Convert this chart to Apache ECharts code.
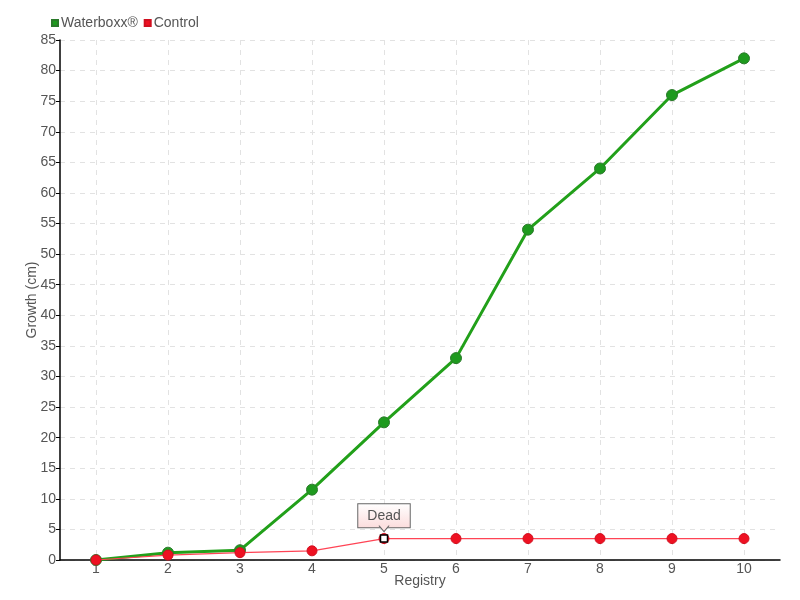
<!DOCTYPE html>
<html><head><meta charset="utf-8">
<script src="https://cdn.jsdelivr.net/npm/echarts@6/dist/echarts.min.js"></script>
<style>html,body{margin:0;padding:0;background:#fff}#c{width:800px;height:600px}</style>
</head><body><div id="c"></div>
<script>
var categories = ['1','2','3','4','5','6','7','8','9','10'];
var waterboxx = [0, 1.2, 1.6, 11.5, 22.5, 33, 54, 64, 76, 82];
var control = [0, 0.8, 1.2, 1.5, 3.5, 3.5, 3.5, 3.5, 3.5, 3.5];
var deadIndex = 4;
var deadLabel = 'Dead';
var FONT = '"Liberation Sans", sans-serif';
// helper axis for vertical grid lines through category centres
var halfSteps = [];
for (var i = 0; i <= categories.length * 2; i++) halfSteps.push(String(i));
var chart = echarts.init(document.getElementById('c'));
chart.setOption({
  animation: false,
  textStyle: {fontFamily: FONT},
  legend: {
    left: 46, top: 11, itemWidth: 6, itemHeight: 6, itemGap: 6,
    textStyle: {color: '#555', fontSize: 14, fontFamily: FONT, padding: [0, 0, 0, -2]},
    data: [{name: 'Waterboxx®', icon: 'rect'}, {name: 'Control', icon: 'rect'}]
  },
  grid: {left: 60, right: 20, top: 40, bottom: 40, outerBoundsMode: 'none', containLabel: false},
  xAxis: [{
    type: 'category', data: categories, boundaryGap: true,
    name: 'Registry', nameLocation: 'middle', nameGap: 14, nameMoveOverlap: false,
    nameTextStyle: {color: '#555', fontSize: 14, fontFamily: FONT, verticalAlign: 'top'},
    axisLine: {lineStyle: {color: '#000', width: 1.5}},
    axisTick: {alignWithLabel: true, length: 4, lineStyle: {color: '#000'}},
    axisLabel: {color: '#555', fontSize: 14, margin: 2, fontFamily: FONT},
    splitLine: {show: false}
  }, {
    type: 'category', data: halfSteps, boundaryGap: false, position: 'bottom',
    axisLine: {show: false}, axisTick: {show: false}, axisLabel: {show: false},
    splitLine: {show: true, interval: function (idx) { return idx % 2 === 1; },
      lineStyle: {color: '#e2e2e2', type: [5, 5]}}
  }],
  yAxis: {
    type: 'value', min: 0, max: 85, interval: 5,
    name: 'Growth (cm)', nameLocation: 'middle', nameGap: 21, nameMoveOverlap: false,
    nameTextStyle: {color: '#555', fontSize: 14, fontFamily: FONT},
    axisLine: {show: true, lineStyle: {color: '#000', width: 1.5}},
    axisTick: {show: true, length: 4, lineStyle: {color: '#000'}},
    axisLabel: {color: '#555', fontSize: 14, margin: 4, fontFamily: FONT},
    splitLine: {lineStyle: {color: '#e2e2e2', type: [5, 5]}}
  },
  series: [
    {
      name: 'Waterboxx®', type: 'line', data: waterboxx,
      symbol: 'circle', symbolSize: 11,
      itemStyle: {color: '#1e9a1e', borderColor: '#2a7a2a', borderWidth: 1},
      lineStyle: {color: '#22a01a', width: 3}, z: 2,
      markPoint: {
        z: 10,
        data: [{coord: [deadIndex, control[deadIndex]]}],
        symbol: 'path://M0,0L5,6L10,0', symbolSize: [10, 6], symbolOffset: [0, -10],
        itemStyle: {color: '#fde2e2', borderColor: '#666', borderWidth: 1},
        label: {show: false}
      }
    },
    {
      name: 'Control', type: 'line', data: control,
      symbol: 'circle', symbolSize: 10,
      itemStyle: {color: '#ee1122', borderColor: '#d01020', borderWidth: 1},
      lineStyle: {color: '#ff4455', width: 1.2}, z: 3,
      markPoint: {
        data: [{coord: [deadIndex, control[deadIndex]]}],
        symbol: 'rect', symbolSize: 7,
        itemStyle: {color: '#fff', borderColor: '#000', borderWidth: 1.5},
        label: {
          show: true, position: 'top', distance: 7,
          formatter: deadLabel, color: '#555', fontSize: 14, fontFamily: FONT,
          padding: [5, 9, 4, 9],
          borderColor: '#666', borderWidth: 1,
          backgroundColor: {type: 'linear', x: 0, y: 0, x2: 0, y2: 1,
            colorStops: [{offset: 0, color: '#ffffff'}, {offset: 1, color: '#fcdcdc'}]}
        }
      }
    }
  ]
});
</script></body></html>
